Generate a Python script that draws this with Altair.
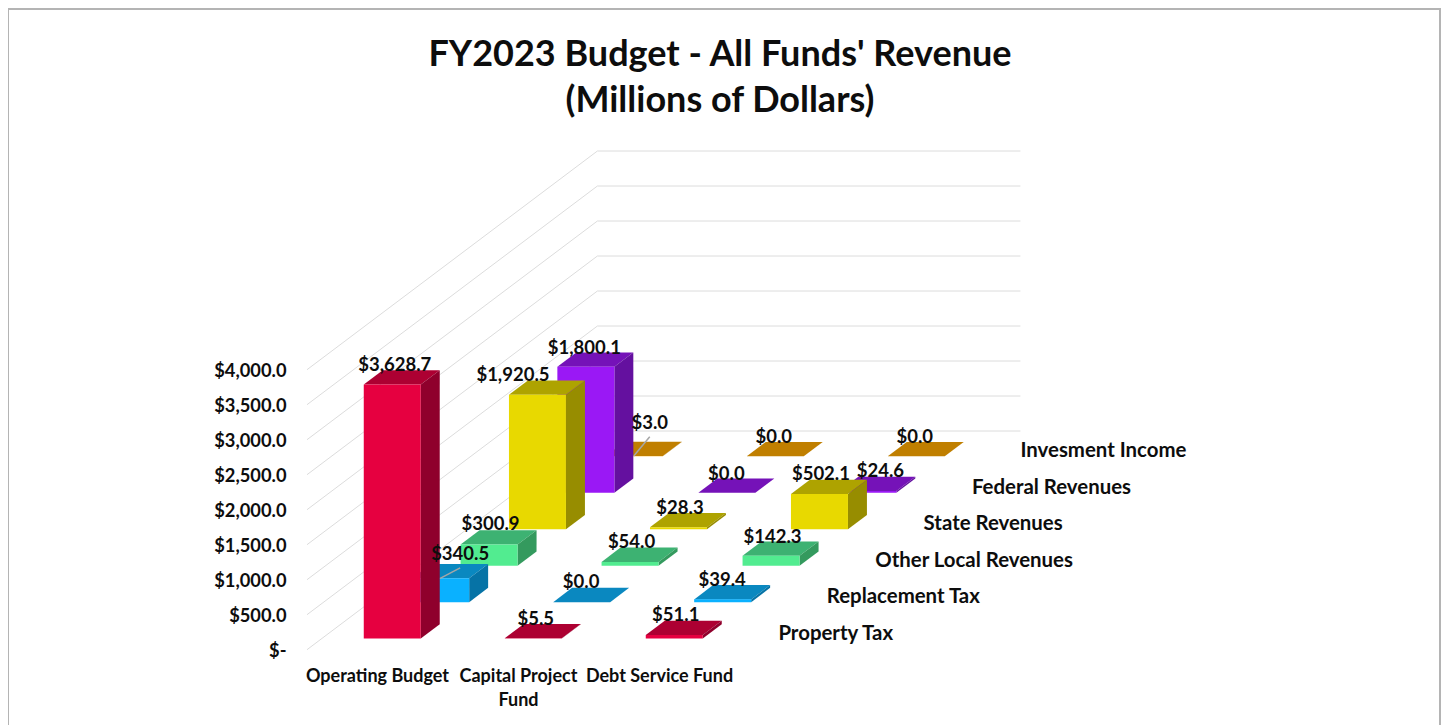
import altair as alt
import pandas as pd

# ---- values
funds = ["Operating Budget", "Capital Project\nFund", "Debt Service Fund"]
sources = ["Property Tax", "Replacement Tax", "Other Local Revenues",
           "State Revenues", "Federal Revenues", "Invesment Income"]
property_tax = [3628.7, 5.5, 51.1]
replacement_tax = [340.5, 0.0, 39.4]
other_local = [300.9, 54.0, 142.3]
state_rev = [1920.5, 28.3, 502.1]
federal_rev = [1800.1, 0.0, 24.6]
investment = [3.0, 0.0, 0.0]
series = [property_tax, replacement_tax, other_local, state_rev, federal_rev, investment]
axis_ticks = [0, 500, 1000, 1500, 2000, 2500, 3000, 3500, 4000]

# ---- colours per series: front, side, top
palette = [("#E60040", "#8F002C", "#AD0032"),
           ("#0AB1FF", "#0673A6", "#0A88C0"),
           ("#52EC90", "#349A5E", "#3DB272"),
           ("#E8D900", "#978D00", "#AEA300"),
           ("#9A18F5", "#64109F", "#7512B8"),
           ("#FFA900", "#A66E00", "#C07F00")]

# ---- oblique projection of (fund slot, depth row, value) on to the two linear scales
PX_CAT, PX_VAL = 141.0, 0.07          # px per fund slot, px per dollar
DEPTH_X, DEPTH_Y = 48.4, 36.45        # px per depth row
ORIGIN_X, ORIGIN_Y = 307.0, 649.7     # page px of the front corner of the floor
W, H = 1433, 717
BAR_W = 57 / 141
GAP_X = (1 - BAR_W) / 2
D0, D1 = 0.305, 0.697                 # front / back of a bar inside its depth row


def sx(u, d):
    return u + d * DEPTH_X / PX_CAT


def sy(v, d):
    return v + d * DEPTH_Y / PX_VAL


X = alt.Scale(domain=[(8 - ORIGIN_X) / PX_CAT, (8 + W - ORIGIN_X) / PX_CAT], nice=False, zero=False)
Y = alt.Scale(domain=[(ORIGIN_Y - 8 - H) / PX_VAL, (ORIGIN_Y - 8) / PX_VAL], nice=False, zero=False)
FONT = "Lato"
INK = "#0D0D0D"
tick_expr = ("datum.value == 0 ? '$-' : '$' + format(datum.value, ',.1f')")
y_axis = alt.Axis(values=axis_ticks, labelExpr=tick_expr, domain=False, ticks=False,
                  grid=False, offset=-278, labelPadding=0, labelOffset=2, labelFont=FONT,
                  labelFontWeight="bold", labelFontSize=18.3, labelColor=INK)
px = alt.X("x:Q", scale=X, axis=None)
px2 = alt.X2("x2:Q")
py = alt.Y("y:Q", scale=Y, title=None, axis=y_axis)
py2 = alt.Y2("y2:Q")
fill = alt.Color("c:N", scale=None)

layers = []

# ---- walls
grid = []
for v in axis_ticks:
    grid.append(dict(g=v, x=sx(0, 0), y=sy(v, 0)))
    grid.append(dict(g=v, x=sx(0, 6), y=sy(v, 6)))
    grid.append(dict(g=v, x=sx(3, 6), y=sy(v, 6)))
layers.append(
    alt.Chart(pd.DataFrame(grid)).mark_line(color="#DCDCDC", strokeWidth=1).encode(
        x=px, y=py, detail="g:N")
)

# ---- bars, painted from the back row to the front row
for d in range(5, -1, -1):
    front, side, top = [], [], []
    for u in range(3):
        v = series[d][u]
        l, r = u + GAP_X, u + GAP_X + BAR_W
        cf, cs, ct = palette[d]
        bid = f"{d}-{u}"
        front.append(dict(x=sx(l, d + D0), x2=sx(r, d + D0), y=sy(0, d + D0), y2=sy(v, d + D0), c=cf, value=v))
        side.append(dict(b=bid, x=sx(r, d + D0), y=sy(0, d + D0), y2=sy(v, d + D0), c=cs))
        side.append(dict(b=bid, x=sx(r, d + D1), y=sy(0, d + D1), y2=sy(v, d + D1), c=cs))
        top.append(dict(b=bid, y=sy(v, d + D0), x=sx(l, d + D0), x2=sx(r, d + D0), c=ct))
        top.append(dict(b=bid, y=sy(v, d + D1), x=sx(l, d + D1), x2=sx(r, d + D1), c=ct))
    layers.append(alt.Chart(pd.DataFrame(top)).mark_area(orient="horizontal", interpolate="linear").encode(
        x=px, x2=px2, y=py, color=fill, detail="b:N"))
    layers.append(alt.Chart(pd.DataFrame(side)).mark_area(orient="vertical", interpolate="linear").encode(
        x=px, y=py, y2=py2, color=fill, detail="b:N"))
    layers.append(alt.Chart(pd.DataFrame(front)).mark_rect().encode(
        x=px, x2=px2, y=py, y2=py2, color=fill))

# ---- data labels: nudges in px from the centre of each bar's top, as they sit in the picture
nudges = {(0, 0): (-7, -12), (0, 1): (-7, -12), (0, 2): (-8, -13),
          (1, 0): (10, -17), (1, 1): (-10, -13), (1, 2): (-10, -12),
          (2, 0): (-8, -13), (2, 1): (-8, -13), (2, 2): (-8, -12),
          (3, 0): (-34, -13), (3, 1): (-8, -12), (3, 2): (-8, -13),
          (4, 0): (-11, -12), (4, 1): (-10, -12), (4, 2): (3, -13),
          (5, 0): (6, -26), (5, 1): (-11, -12), (5, 2): (-11, -12)}
# leader lines: start and end in px from the label's centre
leader_px = {(1, 0): (-20, 24.3, 0, 13.7), (5, 0): (-16, 33, 0, 13.7)}
labels, leaders = [], []
for d in range(6):
    for u in range(3):
        v = series[d][u]
        cu, cd = u + 0.5, d + (D0 + D1) / 2
        ndx, ndy = nudges[(d, u)]
        lx = sx(cu, cd) + ndx / PX_CAT
        ly = sy(v, cd) - ndy / PX_VAL
        labels.append(dict(x=lx, y=ly, t="$" + format(v, ",.1f")))
        if (d, u) in leader_px:
            a, b, c, e = leader_px[(d, u)]
            leaders.append(dict(x=lx + a / PX_CAT, y=ly - b / PX_VAL,
                                x2=lx + c / PX_CAT, y2=ly - e / PX_VAL))
layers.append(alt.Chart(pd.DataFrame(leaders)).mark_rule(color="#A6A6A6", strokeWidth=1.5).encode(
    x=px, x2=px2, y=py, y2=py2))
layers.append(alt.Chart(pd.DataFrame(labels)).mark_text(
    font=FONT, fontWeight="bold", fontSize=18.5, color=INK, baseline="middle").encode(
    x=px, y=py, text="t:N"))

# ---- fund labels along the front edge
fund_rows = [dict(x=sx(u + 0.5, 0), y=sy(0, 0) - 27 / PX_VAL, t=n.split("\n")) for u, n in enumerate(funds)]
layers.append(alt.Chart(alt.Data(values=fund_rows)).mark_text(
    font=FONT, fontWeight="bold", fontSize=18, color=INK, baseline="middle", lineHeight=24).encode(
    x=px, y=py, text="t:N"))

# ---- depth labels along the right edge
src_rows = [dict(x=sx(3, d + 1), y=sy(0, d) + 16 / PX_VAL, t=n) for d, n in enumerate(sources)]
layers.append(alt.Chart(pd.DataFrame(src_rows)).mark_text(
    font=FONT, fontWeight="bold", fontSize=20.4, color=INK, align="left", baseline="middle").encode(
    x=px, y=py, text="t:N"))

# ---- the picture's frame, open at the bottom
frame = pd.DataFrame({"k": [0]})
FRAME = dict(color="#B4B4B4", strokeWidth=2)
layers.append(alt.Chart(frame).mark_rule(**FRAME).encode(x=alt.value(0), x2=alt.value(W), y=alt.value(1)))
layers.append(alt.Chart(frame).mark_rule(**FRAME).encode(x=alt.value(0), y=alt.value(0), y2=alt.value(H)))
layers.append(alt.Chart(frame).mark_rule(**FRAME).encode(x=alt.value(W - 1), y=alt.value(0), y2=alt.value(H)))

chart = alt.layer(*layers).properties(
    width=W, height=H,
    padding=0,
    autosize=alt.AutoSizeParams(type="none"),
    background="white",
    title=alt.Title(text=["FY2023 Budget - All Funds' Revenue", "(Millions of Dollars)"],
                    anchor="middle", font=FONT, fontWeight="bold", fontSize=36, lineHeight=46,
                    color=INK, baseline="middle", offset=0, dx=-4.5, dy=130),
).resolve_scale(x="shared", y="shared").configure_view(stroke=None)

chart.save("out.html", embed_options={"renderer": "svg", "actions": False})
